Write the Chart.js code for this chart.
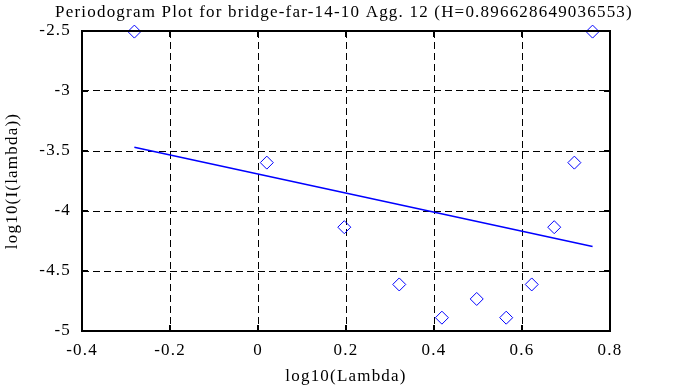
<!DOCTYPE html>
<html lang="en">
<head>
    <meta charset="UTF-8">
    <title>Periodogram Plot</title>
    <script src="https://cdn.jsdelivr.net/npm/chart.js"></script>
    <style>
        body { margin: 0; background: #fff; }
        #wrap { width: 688px; height: 387px; }
    </style>
</head>
<body>
<div id="wrap"><canvas id="periodogram"></canvas></div>

<script>
// periodogram points (log10 of lambda vs log10 of I(lambda))
const logLambda = [-0.281, 0.020, 0.1961, 0.321, 0.418, 0.4971, 0.5641, 0.6221, 0.6732, 0.719, 0.7604];
const logI = [-2.505, -3.597, -4.135, -4.612, -4.889, -4.733, -4.889, -4.612, -4.135, -3.597, -2.505];

// fitted line endpoints
const fitX = [-0.281, 0.7604];
const fitY = [-3.469, -4.295];

const xTickLabels = ['-0.4', '-0.2', '0', '0.2', '0.4', '0.6', '0.8'];
const yTickLabels = ['-5', '-4.5', '-4', '-3.5', '-3', '-2.5'];

const titleText = 'Periodogram Plot for bridge-far-14-10 Agg. 12 (H=0.896628649036553)';
const serif = 'Liberation Serif';

// the original text is a bit wider than Liberation Serif, so space it out a little
const spacingPlugin = {
    id: 'spacing',
    beforeDraw(chart) {
        chart.ctx.letterSpacing = '1.2px';
    }
};

// frame and the little inward tick marks on all four sides
const framePlugin = {
    id: 'frame',
    afterDraw(chart) {
        const { ctx, chartArea: a, scales } = chart;
        ctx.save();
        ctx.strokeStyle = '#000';
        ctx.lineWidth = 2;
        ctx.strokeRect(a.left, a.top, a.right - a.left, a.bottom - a.top);
        const len = 6;
        ctx.beginPath();
        scales.x.ticks.forEach(t => {
            const px = Math.round(scales.x.getPixelForValue(t.value));
            ctx.moveTo(px, a.bottom); ctx.lineTo(px, a.bottom - len);
            ctx.moveTo(px, a.top); ctx.lineTo(px, a.top + len);
        });
        scales.y.ticks.forEach(t => {
            const py = Math.round(scales.y.getPixelForValue(t.value));
            ctx.moveTo(a.left, py); ctx.lineTo(a.left + len, py);
            ctx.moveTo(a.right, py); ctx.lineTo(a.right - len, py);
        });
        ctx.stroke();
        ctx.restore();
    }
};

const gridColor = (ctx) => {
    const s = ctx.scale;
    if (!ctx.tick) return 'transparent';
    if (ctx.tick.value <= s.min || ctx.tick.value >= s.max) return 'transparent';
    return '#000';
};

new Chart(document.getElementById('periodogram'), {
    type: 'scatter',
    data: {
        datasets: [
            {
                data: logLambda.map((x, i) => ({ x: x, y: logI[i] })),
                pointStyle: 'rectRot',
                pointRadius: 6.5,
                pointBorderWidth: 1,
                borderColor: '#0000ff',
                backgroundColor: 'rgba(0,0,0,0)',
                clip: false
            },
            {
                type: 'line',
                data: fitX.map((x, i) => ({ x: x, y: fitY[i] })),
                borderColor: '#0000ff',
                borderWidth: 1.5,
                pointRadius: 0,
                fill: false
            }
        ]
    },
    options: {
        responsive: true,
        maintainAspectRatio: false,
        animation: false,
        layout: { padding: 0 },
        plugins: {
            legend: { display: false },
            tooltip: { enabled: false },
            title: {
                display: true,
                text: titleText,
                color: '#000',
                font: { family: serif, size: 17, weight: 'normal', lineHeight: 1.2 },
                padding: { top: 2, bottom: 8.6 }
            }
        },
        scales: {
            x: {
                type: 'linear',
                min: -0.4,
                max: 0.8,
                afterFit: s => { s.height = 56; },
                ticks: {
                    stepSize: 0.2,
                    padding: 9,
                    color: '#000',
                    font: { family: serif, size: 17 },
                    callback: (v, i) => xTickLabels[i]
                },
                grid: { color: gridColor, lineWidth: 1, drawTicks: false },
                border: { display: false, dash: [7, 4] },
                title: {
                    display: true,
                    text: 'log10(Lambda)',
                    color: '#000',
                    font: { family: serif, size: 17 },
                    padding: { top: 0, bottom: 0 }
                }
            },
            y: {
                type: 'linear',
                min: -5,
                max: -2.5,
                afterFit: s => { s.width = 82; },
                ticks: {
                    stepSize: 0.5,
                    padding: 11,
                    color: '#000',
                    font: { family: serif, size: 17 },
                    callback: (v, i) => yTickLabels[i]
                },
                grid: { color: gridColor, lineWidth: 1, drawTicks: false },
                border: { display: false, dash: [7, 4] },
                title: {
                    display: true,
                    text: 'log10(I(lambda))',
                    color: '#000',
                    font: { family: serif, size: 17 },
                    padding: { top: 2, bottom: 0 }
                }
            },
            // empty right-hand axis, only to leave the blank margin on the right
            yRight: {
                type: 'linear',
                position: 'right',
                min: -5,
                max: -2.5,
                afterFit: s => { s.width = 78; },
                ticks: { display: false },
                grid: { display: false, drawTicks: false },
                border: { display: false }
            }
        }
    },
    plugins: [spacingPlugin, framePlugin]
});
</script>
</body>
</html>
